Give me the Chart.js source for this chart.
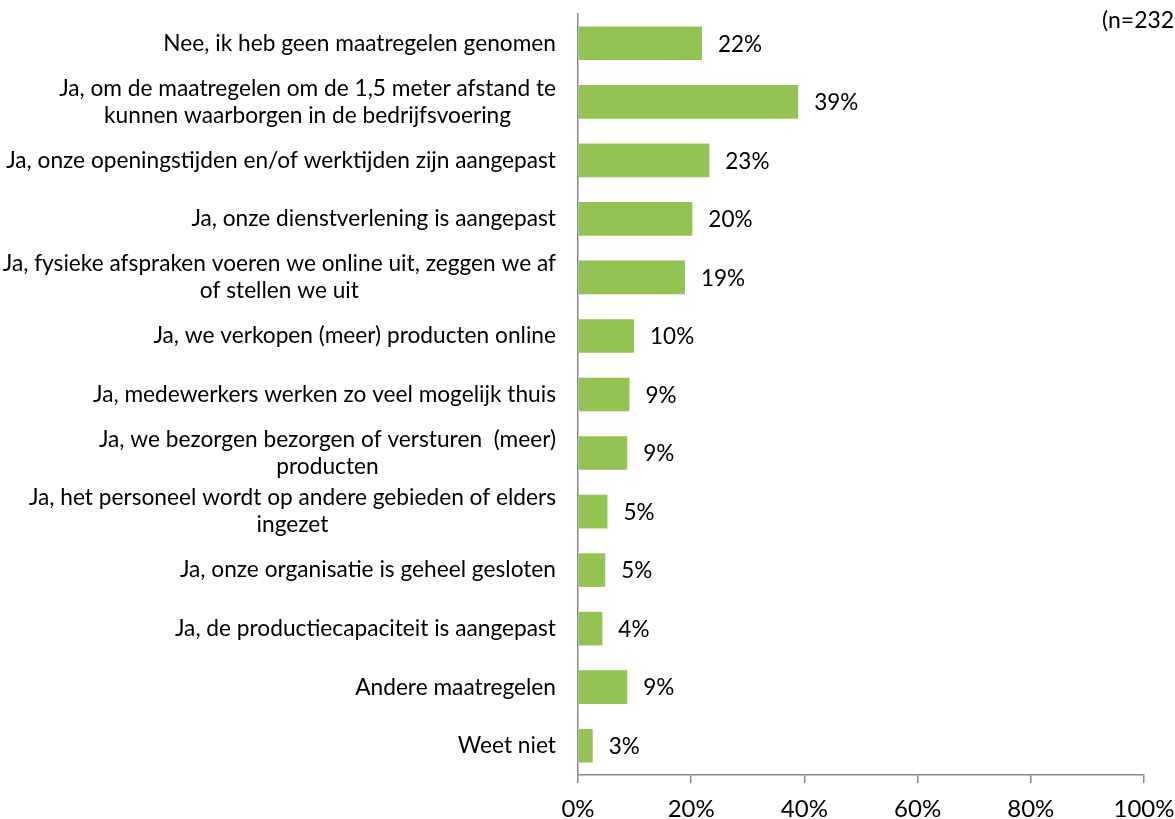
<!DOCTYPE html>
<html>
<head>
<meta charset="utf-8">
<script src="https://cdn.jsdelivr.net/npm/chart.js@4.4.1/dist/chart.umd.min.js"></script>
<style>
  html, body { margin: 0; padding: 0; background: #ffffff; }
  #wrap { width: 1175px; height: 819px; position: relative; }
</style>
</head>
<body>
<div id="wrap"><canvas id="c" width="1175" height="819"></canvas></div>
<script>
const categories = [
  ["Nee, ik heb geen maatregelen genomen"],
  ["Ja, om de maatregelen om de 1,5 meter afstand te", "kunnen waarborgen in de bedrijfsvoering"],
  ["Ja, onze openingstijden en/of werktijden zijn aangepast"],
  ["Ja, onze dienstverlening is aangepast"],
  ["Ja, fysieke afspraken voeren we online uit, zeggen we af", "of stellen we uit"],
  ["Ja, we verkopen (meer) producten online"],
  ["Ja, medewerkers werken zo veel mogelijk thuis"],
  ["Ja, we bezorgen bezorgen of versturen  (meer)", "producten"],
  ["Ja, het personeel wordt op andere gebieden of elders", "ingezet"],
  ["Ja, onze organisatie is geheel gesloten"],
  ["Ja, de productiecapaciteit is aangepast"],
  ["Andere maatregelen"],
  ["Weet niet"]
];
const values = [21.9, 38.9, 23.2, 20.2, 18.9, 9.9, 9.1, 8.7, 5.2, 4.8, 4.3, 8.7, 2.6];
const valueLabels = ["22%", "39%", "23%", "20%", "19%", "10%", "9%", "9%", "5%", "5%", "4%", "9%", "3%"];
const xTicks = [0, 20, 40, 60, 80, 100];
const sampleNote = "(n=232";

const FONT = "Lato, 'Open Sans', sans-serif";
const BAR_COLOR = "#92c353";
const AXIS_COLOR = "#8a8a8a";

const labelPlugin = {
  id: 'customLabels',
  afterDatasetsDraw(chart) {
    const ctx = chart.ctx;
    const y = chart.scales.y;
    ctx.save();
    ctx.font = "22.7px " + FONT;
    ctx.fillStyle = "#000000";
    ctx.textBaseline = "middle";
    ctx.textAlign = "center";
    const rightEdge = chart.chartArea.left - 22;
    const lh = 27;
    categories.forEach((lines, i) => {
      const cy = y.getPixelForValue(i);
      const w = Math.max(...lines.map(l => ctx.measureText(l).width));
      const cx = rightEdge - w / 2;
      const start = cy - (lines.length - 1) * lh / 2;
      lines.forEach((l, k) => ctx.fillText(l, cx, start + k * lh));
    });
    ctx.font = "22.5px " + FONT;
    ctx.textAlign = "left";
    const meta = chart.getDatasetMeta(0);
    meta.data.forEach((bar, i) => {
      ctx.fillText(valueLabels[i], bar.x + 16, bar.y + 1);
    });
    ctx.font = "23px " + FONT;
    ctx.textAlign = "left";
    ctx.fillText(sampleNote, 1102, 21);
    ctx.restore();
  }
};

new Chart(document.getElementById('c'), {
  type: 'bar',
  data: {
    labels: categories,
    datasets: [{
      data: values,
      backgroundColor: BAR_COLOR,
      borderWidth: 0,
      categoryPercentage: 1.0,
      barPercentage: 0.575
    }]
  },
  options: {
    indexAxis: 'y',
    responsive: false,
    animation: false,
    devicePixelRatio: 1,
    layout: { padding: { left: 0, right: 31, top: 14, bottom: 0 } },
    plugins: {
      legend: { display: false },
      tooltip: { enabled: false }
    },
    scales: {
      x: {
        min: 0,
        max: 100,
        afterBuildTicks(scale) { scale.ticks = xTicks.map(v => ({ value: v })); },
        afterFit(scale) { scale.height = 44; scale.paddingLeft = 0; scale.paddingRight = 0; },
        grid: {
          display: true,
          drawOnChartArea: false,
          drawTicks: true,
          tickLength: 8,
          color: AXIS_COLOR,
          lineWidth: 1.5
        },
        border: { display: true, color: AXIS_COLOR, width: 1.5 },
        ticks: {
          font: { family: FONT, size: 24 },
          color: "#000000",
          padding: 12,
          maxRotation: 0,
          callback: v => v + "%"
        }
      },
      y: {
        afterFit(scale) { scale.width = 578; scale.paddingTop = 0; scale.paddingBottom = 0; },
        grid: { display: false },
        border: { display: true, color: AXIS_COLOR, width: 1.5 },
        ticks: { display: false }
      }
    }
  },
  plugins: [labelPlugin]
});
</script>
</body>
</html>
